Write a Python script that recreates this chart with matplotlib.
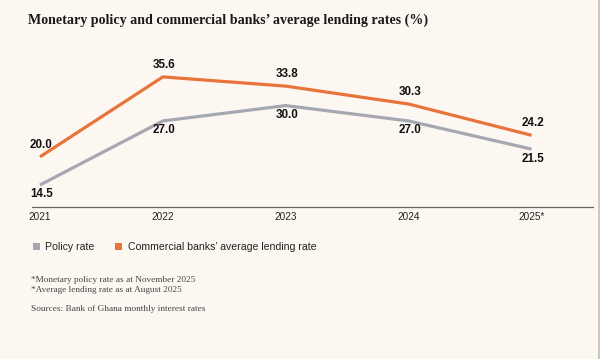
import matplotlib
matplotlib.use("Agg")
import matplotlib.pyplot as plt
from matplotlib.patches import Patch, Rectangle

years = ["2021", "2022", "2023", "2024", "2025*"]
policy_rate = [14.5, 27.0, 30.0, 27.0, 21.5]
lending_rate = [20.0, 35.6, 33.8, 30.3, 24.2]

bg = "#fdf7f2"
orange = "#e8743b"
gray = "#a5a7b1"

plt.rcParams["font.family"] = ["Liberation Sans", "DejaVu Sans"]

fig = plt.figure(figsize=(6, 3.59), dpi=100, facecolor=bg)
ax = fig.add_axes([32 / 600, 1 - 207 / 359, 561 / 600, 147 / 359])
ax.set_facecolor(bg)

x = list(range(len(years)))
ax.plot(x, policy_rate, color=gray, lw=2.3, solid_capstyle="butt", zorder=2)
ax.plot(x, lending_rate, color=orange, lw=2.3, solid_capstyle="butt", zorder=3)

# value labels: lending above, policy below
for xi, v in zip(x, lending_rate):
    ax.annotate(f"{v:.1f}", (xi, v), xytext=(1, 8.5), textcoords="offset points",
                ha="center", va="center", fontsize=8.4, fontweight="bold", color="#111111")
for xi, v in zip(x, policy_rate):
    ax.annotate(f"{v:.1f}", (xi, v), xytext=(1, -6.8), textcoords="offset points",
                ha="center", va="center", fontsize=8.4, fontweight="bold", color="#111111")

ax.set_xlim(-0.065, 4.5)
ax.set_ylim(10.2, 38.9)
ax.set_yticks([])
ax.set_xticks(x)
ax.set_xticklabels(years, fontsize=7.2, color="#222222")
ax.tick_params(axis="x", length=0, pad=3.5)
for side in ["top", "right", "left"]:
    ax.spines[side].set_visible(False)
ax.spines["bottom"].set_color("#666666")
ax.spines["bottom"].set_linewidth(0.9)

fig.text(28 / 600, 1 - 20 / 359, "Monetary policy and commercial banks\u2019 average lending rates (%)",
         family="Liberation Serif", fontweight="bold", fontsize=10.1, va="center", ha="left",
         color="#1a1a1a")

handles = [Patch(facecolor=gray, edgecolor="none", label="Policy rate"),
           Patch(facecolor=orange, edgecolor="none", label="Commercial banks\u2019 average lending rate")]
fig.legend(handles=handles, loc="center left", bbox_to_anchor=(23 / 600, 1 - 247 / 359),
           ncol=2, frameon=False, fontsize=7.6, handlelength=0.72, handleheight=0.72,
           handletextpad=0.5, columnspacing=1.9, labelcolor="#222222")

notes = ["*Monetary policy rate as at November 2025",
         "*Average lending rate as at August 2025"]
fig.text(31 / 600, 1 - 280 / 359, notes[0], family="Liberation Serif", fontsize=6.7,
         va="center", ha="left", color="#444444")
fig.text(31 / 600, 1 - 289.5 / 359, notes[1], family="Liberation Serif", fontsize=6.7,
         va="center", ha="left", color="#444444")
fig.text(31 / 600, 1 - 309 / 359, "Sources: Bank of Ghana monthly interest rates",
         family="Liberation Serif", fontsize=6.7, va="center", ha="left", color="#444444")

# grey strip on the right edge
fig.add_artist(Rectangle((598 / 600, 0), 2 / 600, 1, transform=fig.transFigure,
                         facecolor="#c9c9c9", edgecolor="none"))

fig.savefig("out.png", dpi=100, facecolor=bg)
